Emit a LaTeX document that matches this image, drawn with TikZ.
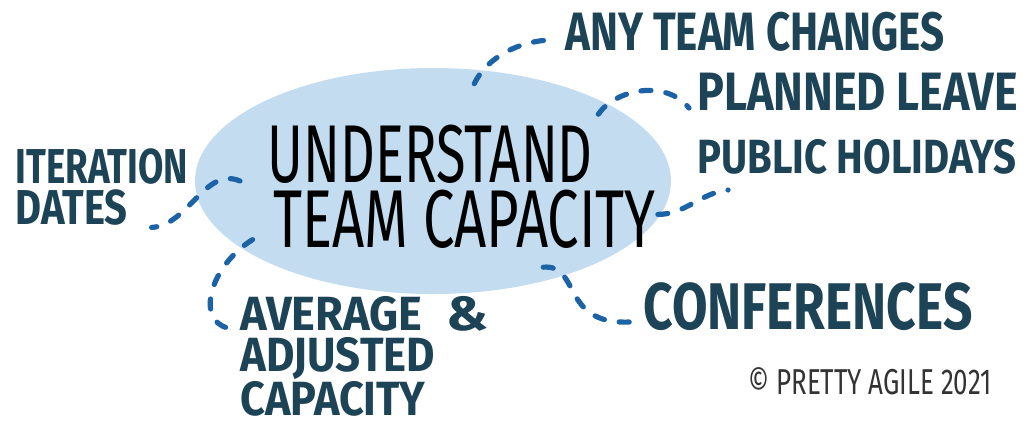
\documentclass[tikz,border=0pt]{standalone}
\usepackage{fontspec}
\usepackage{graphicx}
\setmainfont{Fira Sans}
\usetikzlibrary{shapes.geometric}

\definecolor{blobblue}{HTML}{C4DCF0}
\definecolor{inkteal}{HTML}{1D4356}
\definecolor{dashblue}{HTML}{1B62A6}
\definecolor{signgray}{HTML}{333333}

\newcommand{\squeeze}[2]{\scalebox{#1}[1]{#2}}

\tikzset{
  hubshape/.style={ellipse,fill=blobblue,minimum width=238pt,minimum height=113pt,inner sep=0pt,outer sep=-7pt},
  headline/.style={inner sep=0pt,anchor=north west,align=left,font=\fontsize{41}{32.5}\selectfont},
  topic/.style={inner sep=0pt,anchor=base west,text=inkteal,font=\bfseries\fontsize{#1}{#1}\selectfont},
  stack/.style={inner sep=0pt,anchor=north west,align=left,text=inkteal,font=\bfseries\fontsize{#1}{20.5}\selectfont},
  link/.style={dashblue,line width=2.6pt,line cap=round,dash pattern=on 5pt off 7.5pt},
}

\begin{document}
\begin{tikzpicture}[x=0.5pt,y=-0.5pt]
\useasboundingbox (0,0) rectangle (1028,425);
\node [hubshape] (hub) at (433,181) {};
\node [headline] (title) at (267,125) {\squeeze{0.66}{UNDERSTAND}\\\hspace{3pt}\squeeze{0.685}{TEAM CAPACITY}};

\node [topic=27] (changes) at (565,50) {\squeeze{0.78}{ANY TEAM CHANGES}};
\node [topic=27] (leave) at (697,110) {\squeeze{0.83}{PLANNED LEAVE}};
\node [topic=24] (holidays) at (697,173) {\squeeze{0.834}{PUBLIC HOLIDAYS}};
\node [stack=24.5] (dates) at (15,148) {\squeeze{0.75}{ITERATION}\\\squeeze{0.815}{DATES}};
\node [stack=24] (average) at (240,296) {\squeeze{0.94}{AVERAGE}\hspace{12pt}\squeeze{1.15}{\&}\\\squeeze{0.91}{ADJUSTED}\\\squeeze{0.9}{CAPACITY}};
\node [topic=33] (conferences) at (643,329) {\squeeze{0.78}{CONFERENCES}};
\node [inner sep=0pt,anchor=base west,text=signgray,font=\fontsize{18}{18}\selectfont] (sign) at (748,394) {\squeeze{0.72}{\textcopyright{} PRETTY AGILE 2021}};

\draw [link] (hub.67) .. controls +(12,-26) and +(-33,0) .. ([xshift=-6pt,yshift=5pt]changes.base west);
\draw [link] (hub.22) .. controls +(17,-25) and +(-23,-29) .. ([xshift=-4pt,yshift=1pt]leave.base west);
\draw [link] ([xshift=7pt]hub.-9) .. controls +(28,0) and +(-28,3) .. ([xshift=15.5pt,yshift=-8.5pt]holidays.base west);
\draw [link] ([xshift=15.5pt]hub.west) .. controls +(-35,-15) and +(37,-2) .. ([xshift=-18.5pt,yshift=-1pt]dates.south east);
\draw [link] (hub.198) .. controls +(-42,26) and +(-33,-8) .. ([xshift=-6pt,yshift=-16pt]average.north west);
\draw [link] (hub.-38) .. controls +(38,-3) and +(-70,3) .. ([xshift=-6.5pt,yshift=3.5pt]conferences.base west);
\end{tikzpicture}
\end{document}
